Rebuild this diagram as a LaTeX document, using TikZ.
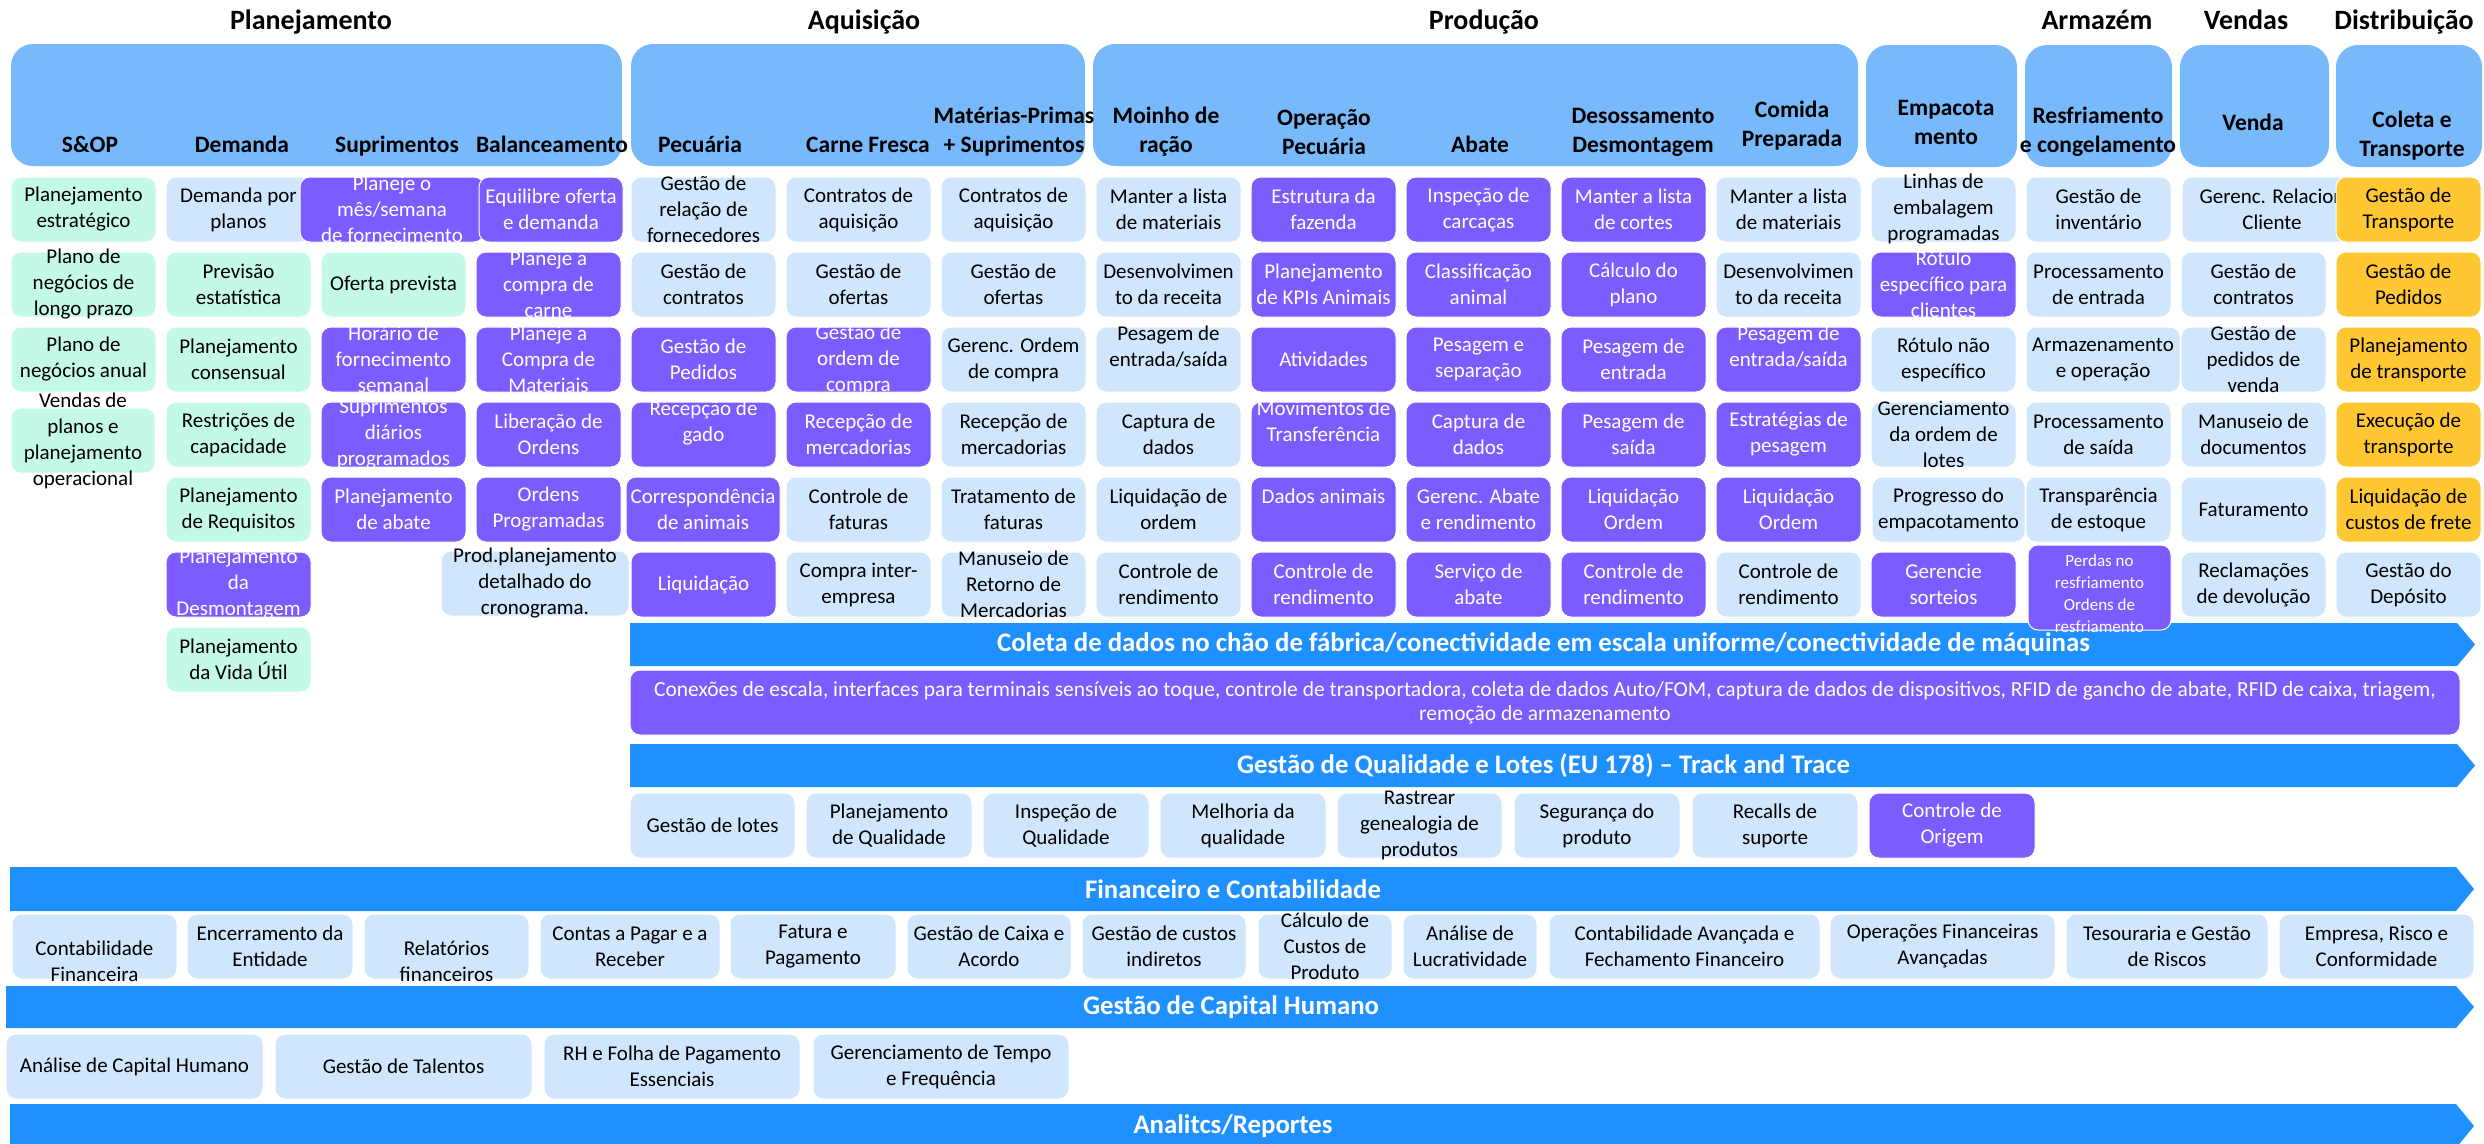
\documentclass[tikz,border=0pt]{standalone}
\usepackage{fontspec}
\setmainfont{Carlito}
\definecolor{hdrblue}{RGB}{120,185,252}
\definecolor{lbcell}{RGB}{208,230,252}
\definecolor{mintcell}{RGB}{196,249,234}
\definecolor{purplecell}{RGB}{124,92,255}
\definecolor{yellowcell}{RGB}{255,200,50}
\definecolor{bandblue}{RGB}{30,144,255}
\tikzset{
  boxbase/.style={draw=white, line width=1pt, rounded corners=10pt},
  lb/.style={boxbase, fill=lbcell}, lbtext/.style={text=black},
  mn/.style={boxbase, fill=mintcell}, mntext/.style={text=black},
  pu/.style={boxbase, fill=purplecell}, putext/.style={text=white},
  ye/.style={boxbase, fill=yellowcell}, yetext/.style={text=black},
  celltext/.style={align=center, inner sep=0pt, font=\fontsize{21}{26}\selectfont},
  hdrblock/.style={fill=hdrblue, rounded corners=22pt},
  hdrtext/.style={align=center, inner sep=0pt, font=\fontsize{23.5}{29}\selectfont\bfseries},
  oneline/.style={text height=17pt, text depth=5pt},
  sectitle/.style={inner sep=0pt, text height=20pt, text depth=6pt, font=\fontsize{28}{34}\selectfont\bfseries},
  bandshape/.style={fill=bandblue},
  bandtext/.style={inner sep=0pt, text=white, font=\fontsize{26.8}{30}\selectfont\bfseries},
}
% \cellat[opts]{name}{style}{x1}{y1}{x2}{y2}{text}
\newcommand\cellat[8][]{%
  \path[#3] ({#4},{#5}) rectangle ({#6},{#7});
  \node[celltext,#3text,#1] (#2) at ({((#4)+(#6))/2},{((#5)+(#7))/2}) {#8};}
% \gcell[opts]{name}{style}{col}{row}{text}
\newcommand\gcell[6][]{\cellat[#1]{#2}{#3}{11+155*(#4-1)}{177+75*(#5-1)}{156+155*(#4-1)}{242+75*(#5-1)}{#6}}
% \bandarrow{name}{x1}{y1}{y2}{xtip}{text}
\newcommand\bandarrow[6]{%
  \path[bandshape] ({#2},{#3}) -- ({#5-18},{#3}) -- ({#5},{((#3)+(#4))/2}) -- ({#5-18},{#4}) -- ({#2},{#4}) -- cycle;
  \node[bandtext] (#1) at ({((#2)+(#5)-18)/2},{((#3)+(#4))/2}) {#6};}
\begin{document}
\begin{tikzpicture}[x=1pt,y=-1pt]
\useasboundingbox (0,0) rectangle (2484,1143);
\clip (0,0) rectangle (2484,1143);
\fill[white] (0,0) rectangle (2484,1143);

% section titles
\node[sectitle] (tplan) at (311,22) {Planejamento};
\node[sectitle] (taqui) at (864,22) {Aquisição};
\node[sectitle] (tprod) at (1484,22) {Produção};
\node[sectitle] (tarm) at (2097,22) {Armazém};
\node[sectitle] (tvend) at (2246,22) {Vendas};
\node[sectitle] (tdist) at (2404,22) {Distribuição};

% header blocks
\path[hdrblock] (11,44) rectangle (622,166);
\path[hdrblock] (631,44) rectangle (1085,166);
\path[hdrblock] (1093,44) rectangle (1858,166);
\path[hdrblock] (1866,45) rectangle (2017,167);
\path[hdrblock] (2025,45) rectangle (2172,167);
\path[hdrblock] (2180,45) rectangle (2329,167);
\path[hdrblock] (2336,45) rectangle (2482,167);

% header subtitles
\node[hdrtext,oneline] (hsop) at (90,146) {S\&OP};
\node[hdrtext,oneline] (hdem) at (242,146) {Demanda};
\node[hdrtext,oneline] (hsup) at (397,146) {Suprimentos};
\node[hdrtext,oneline] (hbal) at (552,146) {Balanceamento};
\node[hdrtext,oneline] (hpec) at (700,146) {Pecuária};
\node[hdrtext,oneline] (hcar) at (868,146) {Carne Fresca};
\node[hdrtext] (hmat) at (1014,132) {Matérias-Primas\\+ Suprimentos};
\node[hdrtext] (hmoi) at (1166,132) {Moinho de\\ração};
\node[hdrtext] (hope) at (1324,132) {Operação\\Pecuária};
\node[hdrtext,oneline] (haba) at (1480,146) {Abate};
\node[hdrtext] (hdes) at (1643,132) {Desossamento\\Desmontagem};
\node[hdrtext] (hcom) at (1792,126) {Comida\\Preparada};
\node[hdrtext] (hemp) at (1946,122) {Empacota\\mento};
\node[hdrtext] (hres) at (2098,132) {Resfriamento\\e congelamento};
\node[hdrtext,oneline] (hven) at (2253,124) {Venda};
\node[hdrtext] (hcol) at (2412,136) {Coleta e\\Transporte};

% column 1: S&OP
\gcell{a1}{mn}{1}{1}{Planejamento\\estratégico}
\gcell{a2}{mn}{1}{2}{Plano de\\negócios de\\longo prazo}
\gcell{a3}{mn}{1}{3}{Plano de\\negócios anual}
\cellat{a4}{mn}{11}{408}{155}{473}{Vendas de\\planos e\\planejamento\\operacional}
% column 2: Demanda
\gcell{b1}{lb}{2}{1}{Demanda por\\planos}
\gcell{b2}{mn}{2}{2}{Previsão\\estatística}
\gcell{b3}{mn}{2}{3}{Planejamento\\consensual}
\gcell{b4}{mn}{2}{4}{Restrições de\\capacidade}
\gcell{b5}{mn}{2}{5}{Planejamento\\de Requisitos}
\gcell{b6}{pu}{2}{6}{Planejamento\\da\\Desmontagem}
\gcell{b7}{mn}{2}{7}{Planejamento\\da Vida Útil}
% column 3: Suprimentos
\cellat{c1}{pu}{300}{177}{484}{242}{Planeje o\\mês/semana\\de fornecimento}
\gcell{c2}{mn}{3}{2}{Oferta prevista}
\gcell{c3}{pu}{3}{3}{Horário de\\fornecimento\\semanal}
\gcell{c4}{pu}{3}{4}{Suprimentos\\diários\\programados}
\gcell{c5}{pu}{3}{5}{Planejamento\\de abate}
% column 4: Balanceamento
\cellat{d1}{pu}{479}{177}{623}{242}{Equilibre oferta\\e demanda}
\gcell{d2}{pu}{4}{2}{Planeje a\\compra de\\carne}
\gcell{d3}{pu}{4}{3}{Planeje a\\Compra de\\Materiais}
\gcell{d4}{pu}{4}{4}{Liberação de\\Ordens}
\gcell{d5}{pu}{4}{5}{Ordens\\Programadas}
\cellat{d6}{lb}{441}{551}{629}{616}{Prod.planejamento\\detalhado do\\cronograma.}
% column 5: Pecuária
\gcell{e1}{lb}{5}{1}{Gestão de\\relação de\\fornecedores}
\gcell{e2}{lb}{5}{2}{Gestão de\\contratos}
\gcell{e3}{pu}{5}{3}{Gestão de\\Pedidos}
\gcell{e4}{pu}{5}{4}{Recepção de\\gado\\\mbox{}}
\cellat{e5}{pu}{626}{477}{780}{542}{Correspondência\\de animais}
\gcell{e6}{pu}{5}{6}{Liquidação}
% column 6: Carne Fresca
\gcell{f1}{lb}{6}{1}{Contratos de\\aquisição}
\gcell{f2}{lb}{6}{2}{Gestão de\\ofertas}
\gcell{f3}{pu}{6}{3}{Gestão de\\ordem de\\compra}
\gcell{f4}{pu}{6}{4}{Recepção de\\mercadorias}
\gcell{f5}{lb}{6}{5}{Controle de\\faturas}
\gcell{f6}{lb}{6}{6}{Compra inter-\\empresa}
% column 7: Matérias-Primas
\gcell{g1}{lb}{7}{1}{Contratos de\\aquisição}
\gcell{g2}{lb}{7}{2}{Gestão de\\ofertas}
\gcell{g3}{lb}{7}{3}{Gerenc. Ordem\\de compra}
\gcell{g4}{lb}{7}{4}{Recepção de\\mercadorias}
\gcell{g5}{lb}{7}{5}{Tratamento de\\faturas}
\gcell{g6}{lb}{7}{6}{Manuseio de\\Retorno de\\Mercadorias}
% column 8: Moinho de ração
\gcell{h1}{lb}{8}{1}{Manter a lista\\de materiais}
\gcell{h2}{lb}{8}{2}{Desenvolvimen\\to da receita}
\gcell{h3}{lb}{8}{3}{Pesagem de\\entrada/saída\\\mbox{}}
\gcell{h4}{lb}{8}{4}{Captura de\\dados}
\gcell{h5}{lb}{8}{5}{Liquidação de\\ordem}
\gcell{h6}{lb}{8}{6}{Controle de\\rendimento}
% column 9: Operação Pecuária
\gcell{i1}{pu}{9}{1}{Estrutura da\\fazenda}
\gcell{i2}{pu}{9}{2}{Planejamento\\de KPIs Animais}
\gcell{i3}{pu}{9}{3}{Atividades}
\gcell{i4}{pu}{9}{4}{Movimentos de\\Transferência\\\mbox{}}
\gcell{i5}{pu}{9}{5}{Dados animais\\\mbox{}}
\gcell{i6}{pu}{9}{6}{Controle de\\rendimento}
% column 10: Abate
\gcell{j1}{pu}{10}{1}{Inspeção de\\carcaças}
\gcell{j2}{pu}{10}{2}{Classificação\\animal}
\gcell{j3}{pu}{10}{3}{Pesagem e\\separação}
\gcell{j4}{pu}{10}{4}{Captura de\\dados}
\gcell{j5}{pu}{10}{5}{Gerenc. Abate\\e rendimento}
\gcell{j6}{pu}{10}{6}{Serviço de\\abate}
% column 11: Desossamento
\gcell{k1}{pu}{11}{1}{Manter a lista\\de cortes}
\gcell{k2}{pu}{11}{2}{Cálculo do\\plano}
\gcell{k3}{pu}{11}{3}{Pesagem de\\entrada}
\gcell{k4}{pu}{11}{4}{Pesagem de\\saída}
\gcell{k5}{pu}{11}{5}{Liquidação\\Ordem}
\gcell{k6}{pu}{11}{6}{Controle de\\rendimento}
% column 12: Comida Preparada
\gcell{l1}{lb}{12}{1}{Manter a lista\\de materiais}
\gcell{l2}{lb}{12}{2}{Desenvolvimen\\to da receita}
\gcell{l3}{pu}{12}{3}{Pesagem de\\entrada/saída\\\mbox{}}
\gcell{l4}{pu}{12}{4}{Estratégias de\\pesagem}
\gcell{l5}{pu}{12}{5}{Liquidação\\Ordem}
\gcell{l6}{lb}{12}{6}{Controle de\\rendimento}
% column 13: Empacotamento
\gcell{m1}{lb}{13}{1}{Linhas de\\embalagem\\programadas}
\gcell{m2}{pu}{13}{2}{Rótulo\\específico para\\clientes}
\gcell{m3}{lb}{13}{3}{Rótulo não\\específico}
\gcell{m4}{lb}{13}{4}{Gerenciamento\\da ordem de\\lotes}
\cellat{m5}{lb}{1872}{477}{2025}{542}{Progresso do\\empacotamento}
\gcell{m6}{pu}{13}{6}{Gerencie\\sorteios}
% column 14: Resfriamento
\gcell{n1}{lb}{14}{1}{Gestão de\\inventário}
\gcell{n2}{lb}{14}{2}{Processamento\\de entrada}
\cellat{n3}{lb}{2026}{327}{2180}{392}{Armazenamento\\e operação}
\gcell{n4}{lb}{14}{4}{Processamento\\de saída}
\gcell{n5}{lb}{14}{5}{Transparência\\de estoque}
% column 15: Venda
\cellat{o1}{lb}{2182}{177}{2362}{242}{Gerenc. Relacion\\Cliente}
\gcell{o2}{lb}{15}{2}{Gestão de\\contratos}
\gcell{o3}{lb}{15}{3}{Gestão de\\pedidos de\\venda}
\gcell{o4}{lb}{15}{4}{Manuseio de\\documentos}
\gcell{o5}{lb}{15}{5}{Faturamento}
\gcell{o6}{lb}{15}{6}{Reclamações\\de devolução}
% column 16: Coleta e Transporte
\gcell{p1}{ye}{16}{1}{Gestão de\\Transporte}
\gcell{p2}{ye}{16}{2}{Gestão de\\Pedidos}
\gcell{p3}{ye}{16}{3}{Planejamento\\de transporte}
\gcell{p4}{ye}{16}{4}{Execução de\\transporte}
\gcell{p5}{ye}{16}{5}{Liquidação de\\custos de frete}
\gcell{p6}{lb}{16}{6}{Gestão do\\Depósito}

% shop floor band
\bandarrow{bcoleta}{630}{623}{666}{2475}{Coleta de dados no chão de fábrica/conectividade em escala uniforme/conectividade de máquinas}
\cellat[font=\fontsize{21.5}{24}\selectfont]{conn}{pu}{630}{670}{2460}{735}{Conexões de escala, interfaces para terminais sensíveis ao toque, controle de transportadora, coleta de dados Auto/FOM, captura de dados de dispositivos, RFID de gancho de abate, RFID de caixa, triagem,\\remoção de armazenamento}

% chilling losses box (over the band)
\path[pu] (2028,545) rectangle (2171,630);
\node[celltext,putext,font=\fontsize{17}{22}\selectfont] (n6) at (2099.5,594) {Perdas no\\resfriamento\\Ordens de\\resfriamento};

% quality band
\bandarrow{bqual}{630}{744}{787}{2475}{Gestão de Qualidade e Lotes (EU 178) – Track and Trace}
\cellat{q1}{lb}{630}{793}{795}{858}{Gestão de lotes}
\cellat{q2}{lb}{806}{793}{972}{858}{Planejamento\\de Qualidade}
\cellat{q3}{lb}{983}{793}{1149}{858}{Inspeção de\\Qualidade}
\cellat{q4}{lb}{1160}{793}{1326}{858}{Melhoria da\\qualidade}
\cellat{q5}{lb}{1337}{793}{1502}{858}{Rastrear\\genealogia de\\produtos}
\cellat{q6}{lb}{1514}{793}{1680}{858}{Segurança do\\produto}
\cellat{q7}{lb}{1692}{793}{1858}{858}{Recalls de\\suporte}
\cellat{q8}{pu}{1869}{793}{2035}{858}{Controle de\\Origem}

% finance band
\bandarrow{bfin}{10}{867}{911}{2474}{Financeiro e Contabilidade}
\cellat{fa1}{lb}{12}{914}{177}{979}{\strut\\Contabilidade\\Financeira}
\cellat{fa2}{lb}{187}{914}{353}{979}{Encerramento da\\Entidade}
\cellat{fa3}{lb}{364}{914}{529}{979}{\strut\\Relatórios\\financeiros}
\cellat{fa4}{lb}{540}{914}{720}{979}{Contas a Pagar e a\\Receber}
\cellat{fa5}{lb}{730}{914}{896}{979}{Fatura e\\Pagamento}
\cellat{fa6}{lb}{907}{914}{1071}{979}{Gestão de Caixa e\\Acordo}
\cellat{fa7}{lb}{1082}{914}{1246}{979}{Gestão de custos\\indiretos}
\cellat{fa8}{lb}{1258}{914}{1392}{979}{Cálculo de\\Custos de\\Produto}
\cellat{fa9}{lb}{1403}{914}{1537}{979}{Análise de\\Lucratividade}
\cellat{fa10}{lb}{1549}{914}{1820}{979}{Contabilidade Avançada e\\Fechamento Financeiro}
\cellat{fa11}{lb}{1830}{914}{2055}{979}{Operações Financeiras\\Avançadas}
\cellat{fa12}{lb}{2066}{914}{2268}{979}{Tesouraria e Gestão\\de Riscos}
\cellat{fa13}{lb}{2279}{914}{2474}{979}{Empresa, Risco e\\Conformidade}

% human capital band
\bandarrow{bhcm}{6}{986}{1028}{2474}{Gestão de Capital Humano}
\cellat{hr1}{lb}{6}{1034}{263}{1099}{Análise de Capital Humano}
\cellat{hr2}{lb}{275}{1034}{532}{1099}{Gestão de Talentos}
\cellat{hr3}{lb}{544}{1034}{800}{1099}{RH e Folha de Pagamento\\Essenciais}
\cellat{hr4}{lb}{813}{1034}{1069}{1099}{Gerenciamento de Tempo\\e Frequência}

% analytics band
\bandarrow{bana}{10}{1104}{1148}{2474}{Analitcs/Reportes}
\end{tikzpicture}
\end{document}
